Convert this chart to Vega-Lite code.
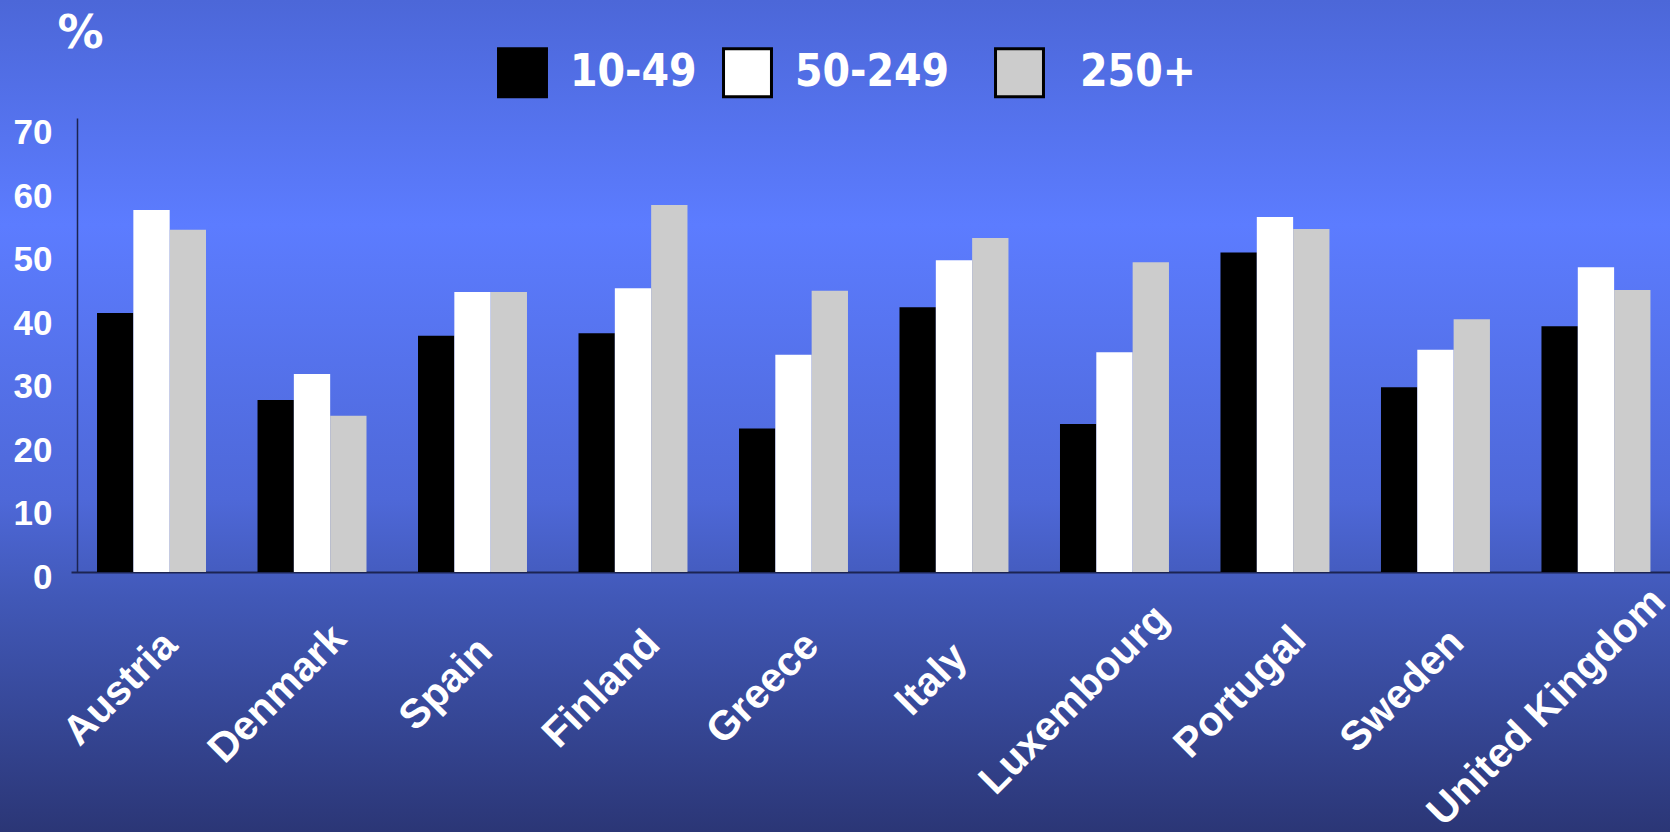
{
  "$schema": "https://vega.github.io/schema/vega-lite/v6.json",
  "width": 1670,
  "height": 832,
  "autosize": {"type": "none"},
  "padding": 0,
  "background": "#4a63d0",
  "view": {
    "stroke": null,
    "fill": {
      "gradient": "linear",
      "x1": 0, "y1": 0, "x2": 0, "y2": 1,
      "stops": [
        {"offset": 0, "color": "#4c67d8"},
        {"offset": 0.27, "color": "#5c7cff"},
        {"offset": 0.6, "color": "#4e68d8"},
        {"offset": 0.72, "color": "#4158b7"},
        {"offset": 1, "color": "#2b3676"}
      ]
    }
  },
  "data": {
    "values": [
      {"country": "Austria", "size": "10-49", "value": 40.8},
      {"country": "Austria", "size": "50-249", "value": 57.0},
      {"country": "Austria", "size": "250+", "value": 53.9},
      {"country": "Denmark", "size": "10-49", "value": 27.1},
      {"country": "Denmark", "size": "50-249", "value": 31.2},
      {"country": "Denmark", "size": "250+", "value": 24.6},
      {"country": "Spain", "size": "10-49", "value": 37.2},
      {"country": "Spain", "size": "50-249", "value": 44.1},
      {"country": "Spain", "size": "250+", "value": 44.1},
      {"country": "Finland", "size": "10-49", "value": 37.6},
      {"country": "Finland", "size": "50-249", "value": 44.7},
      {"country": "Finland", "size": "250+", "value": 57.8},
      {"country": "Greece", "size": "10-49", "value": 22.6},
      {"country": "Greece", "size": "50-249", "value": 34.2},
      {"country": "Greece", "size": "250+", "value": 44.3},
      {"country": "Italy", "size": "10-49", "value": 41.7},
      {"country": "Italy", "size": "50-249", "value": 49.1},
      {"country": "Italy", "size": "250+", "value": 52.6},
      {"country": "Luxembourg", "size": "10-49", "value": 23.3},
      {"country": "Luxembourg", "size": "50-249", "value": 34.6},
      {"country": "Luxembourg", "size": "250+", "value": 48.8},
      {"country": "Portugal", "size": "10-49", "value": 50.3},
      {"country": "Portugal", "size": "50-249", "value": 55.9},
      {"country": "Portugal", "size": "250+", "value": 54.0},
      {"country": "Sweden", "size": "10-49", "value": 29.1},
      {"country": "Sweden", "size": "50-249", "value": 35.0},
      {"country": "Sweden", "size": "250+", "value": 39.8},
      {"country": "United Kingdom", "size": "10-49", "value": 38.7},
      {"country": "United Kingdom", "size": "50-249", "value": 48.0},
      {"country": "United Kingdom", "size": "250+", "value": 44.4}
    ]
  },
  "mark": {"type": "bar", "opacity": 1},
  "encoding": {
    "x": {
      "field": "country",
      "type": "nominal",
      "sort": ["Austria", "Denmark", "Spain", "Finland", "Greece", "Italy", "Luxembourg", "Portugal", "Sweden", "United Kingdom"],
      "scale": {"range": [71, 1670], "paddingInner": 0.321, "paddingOuter": 0.142, "align": 0.571},
      "axis": {
        "title": null,
        "orient": "bottom",
        "offset": -260,
        "domainColor": "#1c2452",
        "domainWidth": 2,
        "ticks": false,
        "tickSize": 0,
        "labelColor": "#ffffff",
        "labelFont": "Liberation Sans",
        "labelFontWeight": "bold",
        "labelFontSize": 41,
        "labelAngle": -45,
        "labelAlign": "right",
        "labelBaseline": "middle",
        "labelOverlap": false,
        "labelLimit": 0,
        "labelOffset": {
          "condition": [
            {"test": "datum.value === 'Austria'", "value": 19.5},
            {"test": "datum.value === 'Denmark'", "value": 28},
            {"test": "datum.value === 'Spain'", "value": 13.5},
            {"test": "datum.value === 'Finland'", "value": 20.4},
            {"test": "datum.value === 'Greece'", "value": 19},
            {"test": "datum.value === 'Italy'", "value": 7},
            {"test": "datum.value === 'Luxembourg'", "value": 48},
            {"test": "datum.value === 'Portugal'", "value": 24.5},
            {"test": "datum.value === 'Sweden'", "value": 22}
          ],
          "value": 63
        },
        "labelPadding": {
          "condition": [
            {"test": "datum.value === 'Austria'", "value": 66.5},
            {"test": "datum.value === 'Denmark'", "value": 60},
            {"test": "datum.value === 'Spain'", "value": 72.5},
            {"test": "datum.value === 'Finland'", "value": 65.6},
            {"test": "datum.value === 'Greece'", "value": 67},
            {"test": "datum.value === 'Italy'", "value": 78.5},
            {"test": "datum.value === 'Luxembourg'", "value": 40},
            {"test": "datum.value === 'Portugal'", "value": 61.5},
            {"test": "datum.value === 'Sweden'", "value": 64}
          ],
          "value": 23
        }
      }
    },
    "xOffset": {
      "field": "size",
      "type": "nominal",
      "sort": ["10-49", "50-249", "250+"],
      "scale": {"paddingInner": 0, "paddingOuter": 0}
    },
    "y": {
      "field": "value",
      "type": "quantitative",
      "scale": {"domain": [0, 71.5], "range": [572, 118], "nice": false, "zero": true},
      "axis": {
        "title": "%",
        "titleAngle": 0,
        "titleX": 3,
        "titleY": 47,
        "titleAlign": "center",
        "titleBaseline": "alphabetic",
        "titleColor": "#ffffff",
        "titleFont": "DejaVu Sans",
        "titleFontWeight": "bold",
        "titleFontSize": 46,
        "orient": "left",
        "offset": -77,
        "values": [0, 10, 20, 30, 40, 50, 60, 70],
        "grid": false,
        "ticks": false,
        "tickSize": 0,
        "domainColor": "#1c2452",
        "domainWidth": 1.5,
        "labelPadding": 25,
        "labelOffset": 5,
        "labelColor": "#ffffff",
        "labelFont": "Liberation Sans",
        "labelFontWeight": "bold",
        "labelFontSize": 35,
        "labelBaseline": "middle"
      }
    },
    "color": {
      "field": "size",
      "type": "nominal",
      "sort": ["10-49", "50-249", "250+"],
      "scale": {"domain": ["10-49", "50-249", "250+"], "range": ["#000000", "#ffffff", "#cccccc"]},
      "legend": {
        "title": null,
        "orient": "none",
        "legendX": 497,
        "legendY": 47,
        "direction": "horizontal",
        "padding": 0,
        "symbolType": "square",
        "symbolSize": 2300,
        "symbolStrokeColor": "#000000",
        "symbolStrokeWidth": 3,
        "symbolOpacity": 1,
        "labelColor": "#ffffff",
        "labelFont": "DejaVu Sans Condensed, DejaVu Sans",
        "labelFontWeight": "bold",
        "labelFontSize": 44,
        "labelOffset": 22,
        "labelLimit": 0,
        "columnPadding": 20,
        "labelExpr": "datum.label == '50-249' ? '50-249\u2002\u200b' : (datum.label == '250+' ? '\u200b\u2004250+' : datum.label)"
      }
    }
  }
}
